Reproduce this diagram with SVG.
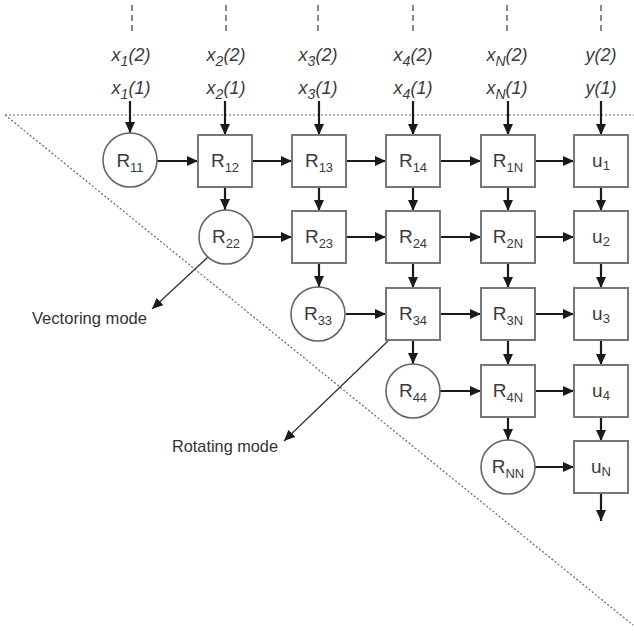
<svg xmlns="http://www.w3.org/2000/svg" width="634" height="631" viewBox="0 0 634 631">
<defs>
<marker id="ah" markerUnits="userSpaceOnUse" markerWidth="12" markerHeight="10" refX="11" refY="5" orient="auto">
<path d="M0,0 L11,5 L0,10 Z" fill="#1a1a1a"/>
</marker>
<style>
.bx{fill:#fff;stroke:#777;stroke-width:2}
.ci{fill:#fff;stroke:#666;stroke-width:1.6}
.ar{stroke:#1a1a1a;stroke-width:2.2;fill:none;marker-end:url(#ah)}
.thin{stroke:#333;stroke-width:1.3;fill:none;marker-end:url(#ah)}
.lb{font-family:"Liberation Sans",Arial,sans-serif;font-size:19px;fill:#3a3a3a;text-anchor:middle}
.sb{font-size:13px}
.top{font-family:"Liberation Sans",Arial,sans-serif;font-style:italic;font-size:18px;fill:#3a3a3a;text-anchor:middle}
.ts{font-size:14px}
.md{font-family:"Liberation Sans",Arial,sans-serif;font-size:17px;fill:#333}
.dash{stroke:#888;stroke-width:2;stroke-dasharray:6,4}
.dot{stroke:#666;stroke-width:1.2;stroke-dasharray:2,2;fill:none}
</style>
</defs>
<rect width="634" height="631" fill="#fff"/>
<g id="guides">
<line class="dot" x1="5" y1="115" x2="634" y2="115"/>
<line class="dot" x1="5" y1="115" x2="633" y2="625"/>
<line class="dash" x1="132" y1="5" x2="132" y2="31"/>
<line class="dash" x1="226" y1="5" x2="226" y2="31"/>
<line class="dash" x1="318" y1="5" x2="318" y2="31"/>
<line class="dash" x1="413" y1="5" x2="413" y2="31"/>
<line class="dash" x1="507" y1="5" x2="507" y2="31"/>
<line class="dash" x1="601" y1="5" x2="601" y2="31"/>
</g>
<g id="inputs">
<text class="top" x="131" y="61">x<tspan class="ts" dy="5">1</tspan><tspan dy="-5">(2)</tspan></text>
<text class="top" x="131" y="94">x<tspan class="ts" dy="5">1</tspan><tspan dy="-5">(1)</tspan></text>
<text class="top" x="226" y="61">x<tspan class="ts" dy="5">2</tspan><tspan dy="-5">(2)</tspan></text>
<text class="top" x="226" y="94">x<tspan class="ts" dy="5">2</tspan><tspan dy="-5">(1)</tspan></text>
<text class="top" x="318" y="61">x<tspan class="ts" dy="5">3</tspan><tspan dy="-5">(2)</tspan></text>
<text class="top" x="318" y="94">x<tspan class="ts" dy="5">3</tspan><tspan dy="-5">(1)</tspan></text>
<text class="top" x="413" y="61">x<tspan class="ts" dy="5">4</tspan><tspan dy="-5">(2)</tspan></text>
<text class="top" x="413" y="94">x<tspan class="ts" dy="5">4</tspan><tspan dy="-5">(1)</tspan></text>
<text class="top" x="507" y="61">x<tspan class="ts" dy="5">N</tspan><tspan dy="-5">(2)</tspan></text>
<text class="top" x="507" y="94">x<tspan class="ts" dy="5">N</tspan><tspan dy="-5">(1)</tspan></text>
<text class="top" x="601" y="61">y(2)</text>
<text class="top" x="601" y="94">y(1)</text>
</g>
<g id="connectors">
<line class="ar" x1="130" y1="101" x2="130" y2="133"/>
<line class="ar" x1="225" y1="101" x2="225" y2="135"/>
<line class="ar" x1="319" y1="101" x2="319" y2="135"/>
<line class="ar" x1="413" y1="101" x2="413" y2="135"/>
<line class="ar" x1="508" y1="101" x2="508" y2="135"/>
<line class="ar" x1="601" y1="101" x2="601" y2="135"/>
<line class="ar" x1="157" y1="161" x2="198" y2="161"/>
<line class="ar" x1="252" y1="161" x2="292" y2="161"/>
<line class="ar" x1="346" y1="161" x2="386" y2="161"/>
<line class="ar" x1="440" y1="161" x2="481" y2="161"/>
<line class="ar" x1="535" y1="161" x2="574" y2="161"/>
<line class="ar" x1="253" y1="237" x2="292" y2="237"/>
<line class="ar" x1="346" y1="237" x2="386" y2="237"/>
<line class="ar" x1="440" y1="237" x2="481" y2="237"/>
<line class="ar" x1="535" y1="237" x2="574" y2="237"/>
<line class="ar" x1="346" y1="314" x2="386" y2="314"/>
<line class="ar" x1="440" y1="314" x2="481" y2="314"/>
<line class="ar" x1="535" y1="314" x2="574" y2="314"/>
<line class="ar" x1="440" y1="391" x2="481" y2="391"/>
<line class="ar" x1="535" y1="391" x2="574" y2="391"/>
<line class="ar" x1="535" y1="467" x2="574" y2="467"/>
<line class="ar" x1="225" y1="187" x2="225" y2="210"/>
<line class="ar" x1="319" y1="187" x2="319" y2="211"/>
<line class="ar" x1="413" y1="187" x2="413" y2="211"/>
<line class="ar" x1="508" y1="187" x2="508" y2="211"/>
<line class="ar" x1="601" y1="187" x2="601" y2="211"/>
<line class="ar" x1="319" y1="263" x2="319" y2="287"/>
<line class="ar" x1="413" y1="263" x2="413" y2="288"/>
<line class="ar" x1="508" y1="263" x2="508" y2="288"/>
<line class="ar" x1="601" y1="263" x2="601" y2="288"/>
<line class="ar" x1="413" y1="340" x2="413" y2="364"/>
<line class="ar" x1="508" y1="340" x2="508" y2="365"/>
<line class="ar" x1="601" y1="340" x2="601" y2="365"/>
<line class="ar" x1="508" y1="417" x2="508" y2="440"/>
<line class="ar" x1="601" y1="417" x2="601" y2="441"/>
<line class="ar" x1="601" y1="493" x2="601" y2="521"/>
<line class="thin" x1="208" y1="257" x2="152" y2="309"/>
<line class="thin" x1="388" y1="341" x2="284" y2="441"/>
</g>
<g id="n11"><circle class="ci" cx="130" cy="160" r="27"/><text class="lb" x="130" y="167">R<tspan class="sb" dy="5">11</tspan></text></g>
<g id="n12"><rect class="bx" x="198" y="135" width="54" height="52"/><text class="lb" x="225" y="167">R<tspan class="sb" dy="5">12</tspan></text></g>
<g id="n13"><rect class="bx" x="292" y="135" width="54" height="52"/><text class="lb" x="319" y="167">R<tspan class="sb" dy="5">13</tspan></text></g>
<g id="n14"><rect class="bx" x="386" y="135" width="54" height="52"/><text class="lb" x="413" y="167">R<tspan class="sb" dy="5">14</tspan></text></g>
<g id="n1N"><rect class="bx" x="481" y="135" width="54" height="52"/><text class="lb" x="508" y="167">R<tspan class="sb" dy="5">1N</tspan></text></g>
<g id="u1"><rect class="bx" x="574" y="135" width="54" height="52"/><text class="lb" x="601" y="167">u<tspan class="sb" dy="3">1</tspan></text></g>
<g id="n22"><circle class="ci" cx="226" cy="237" r="27"/><text class="lb" x="226" y="243">R<tspan class="sb" dy="5">22</tspan></text></g>
<g id="n23"><rect class="bx" x="292" y="211" width="54" height="52"/><text class="lb" x="319" y="243">R<tspan class="sb" dy="5">23</tspan></text></g>
<g id="n24"><rect class="bx" x="386" y="211" width="54" height="52"/><text class="lb" x="413" y="243">R<tspan class="sb" dy="5">24</tspan></text></g>
<g id="n2N"><rect class="bx" x="481" y="211" width="54" height="52"/><text class="lb" x="508" y="243">R<tspan class="sb" dy="5">2N</tspan></text></g>
<g id="u2"><rect class="bx" x="574" y="211" width="54" height="52"/><text class="lb" x="601" y="243">u<tspan class="sb" dy="3">2</tspan></text></g>
<g id="n33"><circle class="ci" cx="318" cy="314" r="27"/><text class="lb" x="318" y="320">R<tspan class="sb" dy="5">33</tspan></text></g>
<g id="n34"><rect class="bx" x="386" y="288" width="54" height="52"/><text class="lb" x="413" y="320">R<tspan class="sb" dy="5">34</tspan></text></g>
<g id="n3N"><rect class="bx" x="481" y="288" width="54" height="52"/><text class="lb" x="508" y="320">R<tspan class="sb" dy="5">3N</tspan></text></g>
<g id="u3"><rect class="bx" x="574" y="288" width="54" height="52"/><text class="lb" x="601" y="320">u<tspan class="sb" dy="3">3</tspan></text></g>
<g id="n44"><circle class="ci" cx="413" cy="391" r="27"/><text class="lb" x="413" y="397">R<tspan class="sb" dy="5">44</tspan></text></g>
<g id="n4N"><rect class="bx" x="481" y="365" width="54" height="52"/><text class="lb" x="508" y="397">R<tspan class="sb" dy="5">4N</tspan></text></g>
<g id="u4"><rect class="bx" x="574" y="365" width="54" height="52"/><text class="lb" x="601" y="397">u<tspan class="sb" dy="3">4</tspan></text></g>
<g id="nNN"><circle class="ci" cx="508" cy="467" r="27"/><text class="lb" x="508" y="473">R<tspan class="sb" dy="5">NN</tspan></text></g>
<g id="uN"><rect class="bx" x="574" y="441" width="54" height="52"/><text class="lb" x="601" y="473">u<tspan class="sb" dy="3">N</tspan></text></g>
<g id="labels">
<text class="md" x="32" y="324" textLength="115" lengthAdjust="spacingAndGlyphs">Vectoring mode</text>
<text class="md" x="172" y="452" textLength="106" lengthAdjust="spacingAndGlyphs">Rotating mode</text>
</g>
</svg>
